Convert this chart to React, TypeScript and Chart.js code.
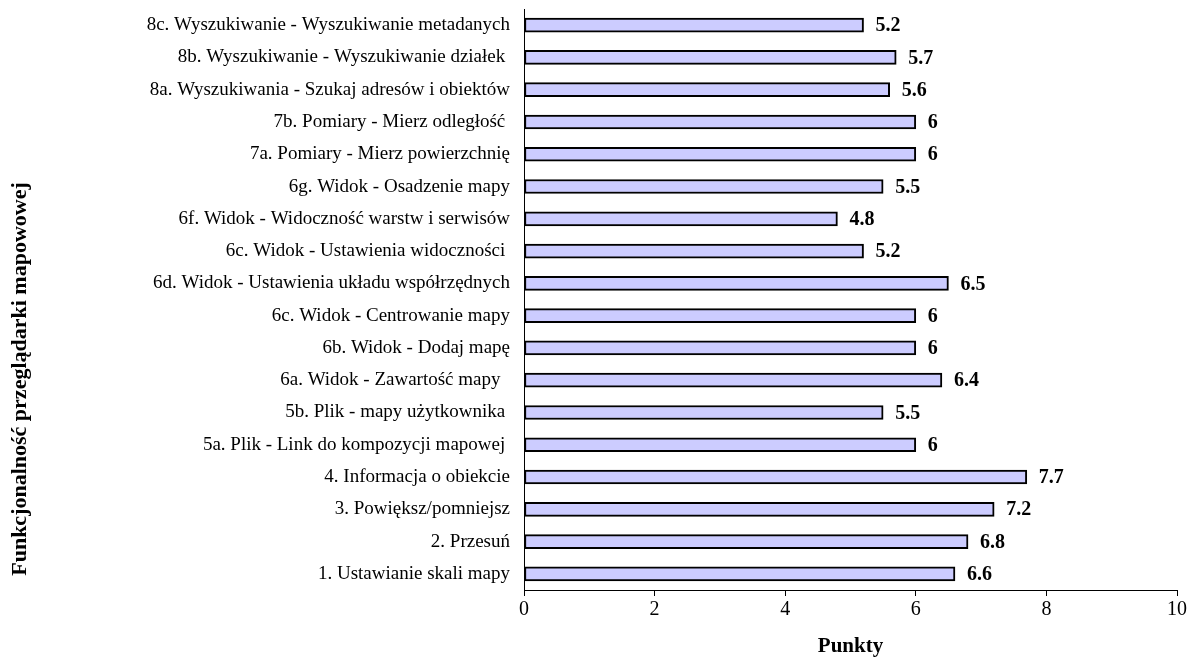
import React, { useEffect, useRef } from "react";
import { Chart, registerables } from "chart.js";

Chart.register(...registerables);

// Functionality names, top to bottom
const categories: string[] = [
  "8c. Wyszukiwanie - Wyszukiwanie metadanych",
  "8b. Wyszukiwanie - Wyszukiwanie działek ",
  "8a. Wyszukiwania - Szukaj adresów i obiektów",
  "7b. Pomiary - Mierz odległość ",
  "7a. Pomiary - Mierz powierzchnię",
  "6g. Widok - Osadzenie mapy",
  "6f. Widok - Widoczność warstw i serwisów",
  "6c. Widok - Ustawienia widoczności ",
  "6d. Widok - Ustawienia układu współrzędnych",
  "6c. Widok - Centrowanie mapy",
  "6b. Widok - Dodaj mapę",
  "6a. Widok - Zawartość mapy  ",
  "5b. Plik - mapy użytkownika ",
  "5a. Plik - Link do kompozycji mapowej ",
  "4. Informacja o obiekcie",
  "3. Powiększ/pomniejsz",
  "2. Przesuń",
  "1. Ustawianie skali mapy",
];

// Points for each functionality
const points: number[] = [
  5.2, 5.7, 5.6, 6, 6, 5.5, 4.8, 5.2, 6.5, 6, 6, 6.4, 5.5, 6, 7.7, 7.2, 6.8, 6.6,
];

const xTitle = "Punkty";
const yTitle = "Funkcjonalność przeglądarki mapowowej";

const SERIF = "'Liberation Serif', 'Times New Roman', serif";

// Bold value next to the end of each bar
const valueLabels = {
  id: "valueLabels",
  afterDatasetsDraw(chart: any) {
    const ctx = chart.ctx;
    const meta = chart.getDatasetMeta(0);
    ctx.save();
    ctx.font = `bold 20px ${SERIF}`;
    ctx.fillStyle = "#000";
    ctx.textAlign = "left";
    ctx.textBaseline = "middle";
    meta.data.forEach((bar: any, i: number) => {
      const v = chart.data.datasets[0].data[i];
      ctx.fillText(String(v), bar.x + 12, bar.y + 1);
    });
    ctx.restore();
  },
};

// Rotated title of the category axis
const sideTitle = {
  id: "sideTitle",
  afterDraw(chart: any) {
    const ctx = chart.ctx;
    ctx.save();
    ctx.translate(20, 379);
    ctx.rotate(-Math.PI / 2);
    ctx.font = `bold 22px ${SERIF}`;
    ctx.fillStyle = "#000";
    ctx.textAlign = "center";
    ctx.textBaseline = "middle";
    ctx.fillText(yTitle, 0, 0);
    ctx.restore();
  },
};

export default function App() {
  const canvasRef = useRef<HTMLCanvasElement | null>(null);

  useEffect(() => {
    if (!canvasRef.current) return;
    const chart = new Chart(canvasRef.current, {
      type: "bar",
      data: {
        labels: categories,
        datasets: [
          {
            data: points,
            backgroundColor: "#CCCCFF",
            borderColor: "#000000",
            borderWidth: 2,
            borderSkipped: false,
            barThickness: 14,
          },
        ],
      },
      options: {
        indexAxis: "y",
        animation: false,
        responsive: true,
        maintainAspectRatio: false,
        layout: { padding: { top: 9, right: 12, left: 0, bottom: 0 } },
        plugins: {
          legend: { display: false },
          tooltip: { enabled: false },
        },
        scales: {
          x: {
            min: 0,
            max: 10,
            ticks: {
              stepSize: 2,
              color: "#000",
              font: { family: SERIF, size: 20 },
              padding: 2,
            },
            grid: {
              drawOnChartArea: false,
              drawTicks: true,
              tickLength: 6,
              color: "#000",
            },
            border: { display: true, color: "#000", width: 1 },
            title: {
              display: true,
              text: xTitle,
              color: "#000",
              font: { family: SERIF, size: 21, weight: "bold" },
              padding: { top: 10, bottom: 0 },
            },
            afterFit(scale: any) {
              scale.height = 69;
              scale.paddingLeft = 0;
              scale.paddingRight = 0;
            },
          },
          y: {
            ticks: {
              color: "#000",
              font: { family: SERIF, size: 19 },
              padding: 14,
              autoSkip: false,
            },
            grid: { drawOnChartArea: false, drawTicks: false },
            border: { display: true, color: "#000", width: 1 },
            afterFit(scale: any) {
              scale.width = 524;
              scale.paddingTop = 0;
              scale.paddingBottom = 0;
            },
          },
        },
      },
      plugins: [valueLabels, sideTitle],
    });
    return () => chart.destroy();
  }, []);

  return (
    <div
      style={{
        position: "absolute",
        left: 0,
        top: 0,
        width: 1189,
        height: 659,
        background: "#fff",
      }}
    >
      <canvas ref={canvasRef} />
    </div>
  );
}
